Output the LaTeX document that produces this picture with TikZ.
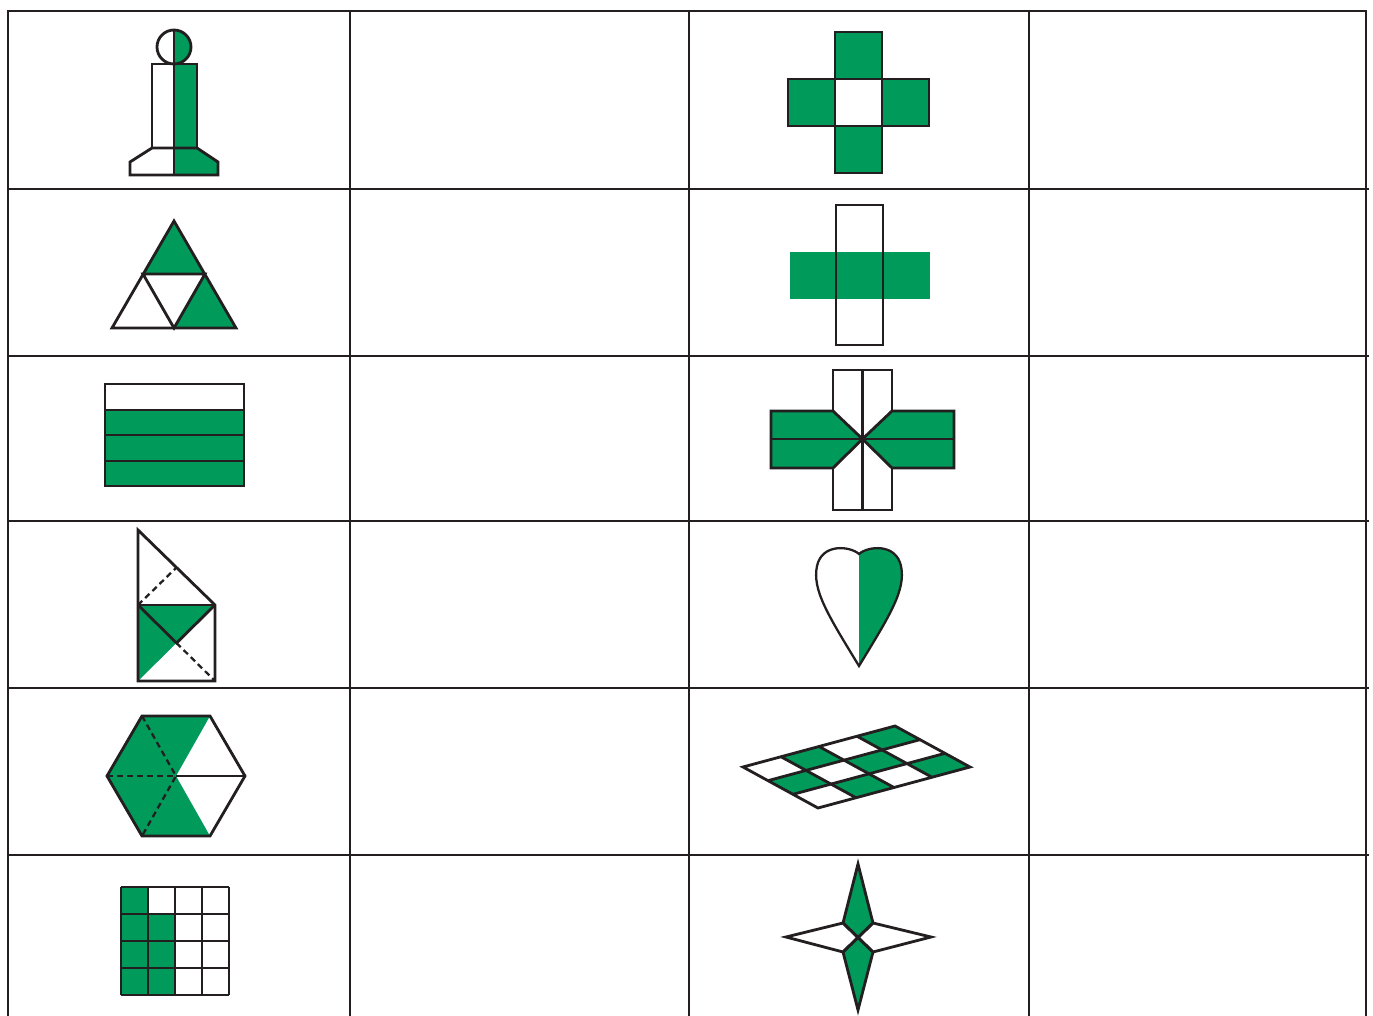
\documentclass[tikz,border=0pt]{standalone}
\usepackage{tikz}
\definecolor{leafgreen}{RGB}{0,154,90}
\definecolor{ink}{RGB}{35,31,32}

\begin{document}
\begin{tikzpicture}[x=0.02cm,y=-0.02cm,
  tline/.style={draw=ink,line width=1.1pt},
  fig/.style={draw=ink,line width=1.6pt},
  gfill/.style={fill=leafgreen},
  dline/.style={draw=ink,line width=1.3pt,dash pattern=on 3.4pt off 2.3pt}]
\useasboundingbox (0,0) rectangle (1373,1016);

% table
\foreach \x in {8,350,689,1029,1366}
  \draw[tline] (\x,10) -- (\x,1016);
\draw[tline] (8,11) -- (1366,11);
\foreach \y in {189,356,521,688,855}
  \draw[tline] (8,\y) -- (1369,\y);

% pawn
\begin{scope}
\clip (174,0) rectangle (240,189);
\fill[gfill] (174,47) circle[radius=0.34cm];
\fill[gfill] (152,64) rectangle (197,148);
\fill[gfill] (130,175) -- (130,162) -- (152,148) -- (197,148) -- (218,162) -- (218,175) -- cycle;
\end{scope}
\draw[fig] (174,47) circle[radius=0.34cm];
\draw[fig] (152,64) rectangle (197,148);
\draw[fig] (130,175) -- (130,162) -- (152,148) -- (197,148) -- (218,162) -- (218,175) -- cycle;
\draw[fig] (174,30) -- (174,175);

% triangle
\fill[gfill] (174,221) -- (143,274) -- (205,274) -- cycle;
\fill[gfill] (205,274) -- (174,328) -- (236,328) -- cycle;
\draw[fig] (174,221) -- (112,328) -- (236,328) -- cycle;
\draw[fig] (143,274) -- (205,274) -- (174,328) -- cycle;

% strips
\fill[gfill] (105,410) rectangle (244,486);
\draw[fig] (105,384) rectangle (244,486);
\foreach \y in {410,435,461}
  \draw[fig] (105,\y) -- (244,\y);

% folded square
\fill[gfill] (138,605) -- (215,605) -- (176.5,643) -- (138,681) -- cycle;
\draw[fig] (138,530) -- (215,605) -- (215,681) -- (138,681) -- cycle;
\draw[fig] (138,605) -- (215,605);
\draw[fig] (138,605) -- (176.5,643) -- (215,605);
\draw[dline] (176.5,643) -- (215,681);
\draw[dline] (138,605) -- (176.5,567.5);

% hexagon
\fill[gfill] (142,716) -- (210,716) -- (176,776) -- (210,836) -- (142,836) -- (107,776) -- cycle;
\draw[fig] (142,716) -- (210,716) -- (245,776) -- (210,836) -- (142,836) -- (107,776) -- cycle;
\draw[fig] (176,776) -- (245,776);
\draw[dline] (142,716) -- (176,776) -- (142,836);
\draw[dline] (107,776) -- (176,776);

% grid
\fill[gfill] (121,887) rectangle (148,995);
\fill[gfill] (148,914) rectangle (175,995);
\foreach \i in {0,...,4} {
  \draw[fig] (121+27*\i,887) -- (121+27*\i,995);
  \draw[fig] (121,887+27*\i) -- (229,887+27*\i);
}

% cross of squares
\foreach \dx/\dy in {0/-47,-47/0,47/0,0/47}
  \filldraw[fig,gfill] (835+\dx,79+\dy) rectangle ++(47,47);
\draw[fig] (835,79) rectangle ++(47,47);

% cross with band
\fill[gfill] (790,252) rectangle (930,299);
\draw[fig] (836,205) rectangle (883,345);

% cross with arms
\filldraw[fig,gfill] (771,411) -- (833,411) -- (862.5,439) -- (833,468) -- (771,468) -- cycle;
\filldraw[fig,gfill] (954,411) -- (892,411) -- (862.5,439) -- (892,468) -- (954,468) -- cycle;
\draw[fig] (833,411) -- (833,370) -- (892,370) -- (892,411);
\draw[fig] (833,468) -- (833,510) -- (892,510) -- (892,468);
\draw[fig] (862.5,370) -- (862.5,510);
\draw[fig] (771,439) -- (954,439);

% leaf
\fill[gfill] (859,554) .. controls (868,546) and (896,543) .. (901,566)
  .. controls (906,590) and (890,615) .. (859,666) -- cycle;
\draw[fig,line width=1.3pt] (859,554) .. controls (868,546) and (896,543) .. (901,566)
  .. controls (906,590) and (890,615) .. (859,666)
  .. controls (828,615) and (812,590) .. (817,566)
  .. controls (822,543) and (850,546) .. (859,554) -- cycle;

% checkered parallelogram
\foreach \i/\j in {0/1,1/0,1/2,2/1,3/0,3/2}
  \fill[gfill] ({818+38*\i-25*\j},{808-10.25*\i-13.67*\j}) -- ++(38,-10.25) -- ++(-25,-13.67) -- ++(-38,10.25) -- cycle;
\draw[fig] (818,808) -- ++(152,-41) -- ++(-75,-41) -- ++(-152,41) -- cycle;
\foreach \i in {1,2,3}
  \draw[fig] ({818+38*\i},{808-10.25*\i}) -- ++(-75,-41);
\foreach \j in {1,2}
  \draw[fig] ({818-25*\j},{808-13.67*\j}) -- ++(152,-41);

% star
\filldraw[fig,gfill] (858,864) -- (873,923) -- (858,937.5) -- (843,923) -- cycle;
\filldraw[fig,gfill] (858,1010) -- (873,952) -- (858,937.5) -- (843,952) -- cycle;
\draw[fig] (786,937) -- (843,923) -- (858,937.5) -- (843,952) -- cycle;
\draw[fig] (931,937) -- (873,923) -- (858,937.5) -- (873,952) -- cycle;
\end{tikzpicture}
\end{document}
